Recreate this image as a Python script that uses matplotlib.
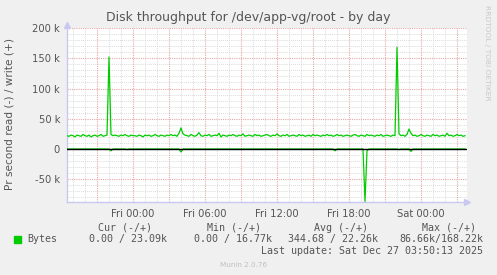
import matplotlib
matplotlib.use('Agg')
import matplotlib.pyplot as plt
import numpy as np

# hours relative to Fri 00:00, one sample every 10 minutes
start_hour = -5.5
samples_per_hour = 6

# write (+) in kB/s
write_k = [
    22, 21, 23, 22, 20, 23, 22, 21, 24, 22, 21, 23, 20, 22, 23, 21, 22, 24, 21, 22,
    23, 152, 24, 22, 23, 22, 21, 23, 22, 24, 22, 21, 23, 22, 22, 21, 23, 22, 20, 23,
    22, 23, 21, 22, 24, 22, 21, 23, 22, 21, 23, 22, 24, 22, 23, 21, 26, 35, 25, 23,
    22, 21, 24, 22, 21, 23, 27, 22, 21, 23, 22, 24, 21, 22, 23, 22, 26, 20, 23, 22,
    21, 23, 22, 24, 22, 21, 23, 22, 25, 21, 22, 23, 22, 21, 24, 22, 23, 21, 22, 23,
    24, 22, 21, 23, 22, 25, 22, 21, 23, 22, 24, 21, 22, 23, 22, 21, 24, 22, 23, 21,
    22, 23, 21, 24, 22, 23, 22, 21, 23, 22, 24, 22, 23, 21, 22, 24, 22, 23, 21, 22,
    23, 22, 21, 23, 24, 22, 21, 23, 22, 21, 24, 22, 23, 22, 21, 23, 22, 24, 21, 22,
    23, 22, 21, 23, 22, 168, 25, 22, 23, 21, 24, 33, 26, 22, 23, 21, 22, 24, 22, 21,
    23, 22, 21, 24, 22, 23, 21, 22, 23, 21, 26, 22, 23, 21, 22, 24, 22, 23, 21, 22,
]

# read (-) in kB/s
read_k = [
    0, 0, 0, 0, 0, 0, 0, 0, 0, 0, 0, 0, 0, 0, 0, 0, 0, 0, 0, 0,
    0, 0, 3, 0, 0, 0, 0, 0, 0, 0, 1, 0, 0, 0, 0, 0, 0, 0, 0, 0,
    0, 0, 0, 0, 0, 0, 0, 0, 0, 0, 0, 0, 0, 0, 0, 0, 0, 5, 0, 0,
    0, 0, 0, 0, 0, 0, 0, 0, 0, 0, 0, 0, 0, 0, 0, 0, 0, 0, 0, 0,
    0, 0, 0, 0, 0, 0, 0, 0, 0, 0, 0, 0, 0, 0, 0, 0, 0, 0, 0, 0,
    0, 0, 0, 0, 0, 0, 0, 0, 0, 0, 0, 0, 0, 0, 0, 0, 0, 0, 0, 0,
    0, 0, 0, 0, 0, 0, 0, 0, 0, 0, 0, 0, 0, 0, 3, 0, 0, 0, 0, 0,
    0, 0, 0, 0, 0, 0, 0, 0, 0, 86.66, 3, 0, 0, 0, 0, 0, 0, 0, 0, 0,
    0, 0, 0, 0, 0, 0, 1, 0, 0, 0, 0, 0, 4, 0, 0, 0, 0, 0, 0, 0,
    0, 0, 0, 0, 0, 0, 0, 0, 0, 0, 0, 0, 0, 0, 0, 0, 0, 0, 0, 0,
]

xtick_hours = [0, 6, 12, 18, 24]
xtick_labels = ['Fri 00:00', 'Fri 06:00', 'Fri 12:00', 'Fri 18:00', 'Sat 00:00']
ytick_vals = [-50000, 0, 50000, 100000, 150000, 200000]
ytick_labels = ['-50 k', '0', '50 k', '100 k', '150 k', '200 k']

legend_cols = ['Cur (-/+)', 'Min (-/+)', 'Avg (-/+)', 'Max (-/+)']
legend_vals = ['0.00 / 23.09k', '0.00 / 16.77k', '344.68 / 22.26k', '86.66k/168.22k']

hours = start_hour + np.arange(len(write_k)) / samples_per_hour
write = np.array(write_k) * 1000
read = -np.array(read_k) * 1000

W, H = 497, 275
fig = plt.figure(figsize=(W / 100, H / 100), dpi=100, facecolor='#f0f0f0')
ax = fig.add_axes([67 / W, 73 / H, 400 / W, 174 / H], facecolor='white')

x0, x1 = -5.5, -5.5 + 400 / 12
y0, y1 = -87600, 200000
ax.set_xlim(x0, x1)
ax.set_ylim(y0, y1)

# grid: minor gray every hour / 10k, major red every 3h / 50k
dot = (0, (1, 1))
for h in np.arange(-5, x1, 1):
    if h % 3 != 0:
        ax.axvline(h, color='#dcdcdc', lw=0.7, ls=dot, zorder=1)
for v in np.arange(-80000, 200001, 10000):
    if v % 50000 != 0:
        ax.axhline(v, color='#dcdcdc', lw=0.7, ls=dot, zorder=1)
for h in np.arange(-3, x1, 3):
    ax.axvline(h, color='#e8a8a8', lw=0.8, ls=dot, zorder=1)
for v in ytick_vals:
    ax.axhline(v, color='#e8a8a8', lw=0.8, ls=dot, zorder=1)

ax.plot(hours, write, color='#00cc00', lw=0.9, zorder=3)
ax.plot(hours, read, color='#00cc00', lw=0.9, zorder=3)
ax.axhline(0, color='black', lw=1, zorder=4)

for s in ['top', 'right']:
    ax.spines[s].set_visible(False)
for s in ['left', 'bottom']:
    ax.spines[s].set_color('#c8c8f0')
    ax.spines[s].set_linewidth(1)
ax.plot(1, 0, '>', color='#c8c8f0', ms=4, transform=ax.transAxes, clip_on=False)
ax.plot(0, 1.02, '^', color='#c8c8f0', ms=4, transform=ax.transAxes, clip_on=False)

txt = '#555555'
ax.set_xticks(xtick_hours)
ax.set_xticklabels(xtick_labels)
ax.set_yticks(ytick_vals)
ax.set_yticklabels(ytick_labels)
ax.tick_params(length=0, labelsize=7.2, colors=txt, pad=5)

fig.text(248 / W, 1 - 18 / H, 'Disk throughput for /dev/app-vg/root - by day',
         ha='center', va='center', fontsize=9.0, color=txt)
fig.text(10 / W, 1 - 114 / H, 'Pr second read (-) / write (+)', rotation=90,
         ha='center', va='center', fontsize=7.6, color=txt)
fig.text(487 / W, 1 - 5 / H, 'RRDTOOL / TOBI OETIKER', rotation=270,
         ha='center', va='top', fontsize=5.4, color='#c8c8c8')

mono = 'DejaVu Sans Mono'
fs = 7.2
col_x = [125, 234, 341, 449]
for cx, head in zip(col_x, legend_cols):
    fig.text(cx / W, 1 - 228 / H, head, ha='center', va='center',
             family=mono, fontsize=fs, color=txt)
val_right = [167, 272, 378, 483]
for rx, val in zip(val_right, legend_vals):
    fig.text(rx / W, 1 - 239 / H, val, ha='right', va='center',
             family=mono, fontsize=fs, color=txt)
fig.patches.append(plt.Rectangle((14 / W, 1 - 243 / H), 7 / W, 7 / H,
                                 transform=fig.transFigure, color='#00cc00'))
fig.text(27 / W, 1 - 239 / H, 'Bytes', ha='left', va='center',
         family=mono, fontsize=fs, color=txt)
fig.text(483 / W, 1 - 251 / H, 'Last update: Sat Dec 27 03:50:13 2025',
         ha='right', va='center', family=mono, fontsize=fs, color=txt)
fig.text(244 / W, 1 - 265 / H, 'Munin 2.0.76', ha='center', va='center',
         fontsize=5.2, color='#c0c0c0')

fig.savefig('out.png', dpi=100, facecolor=fig.get_facecolor())
